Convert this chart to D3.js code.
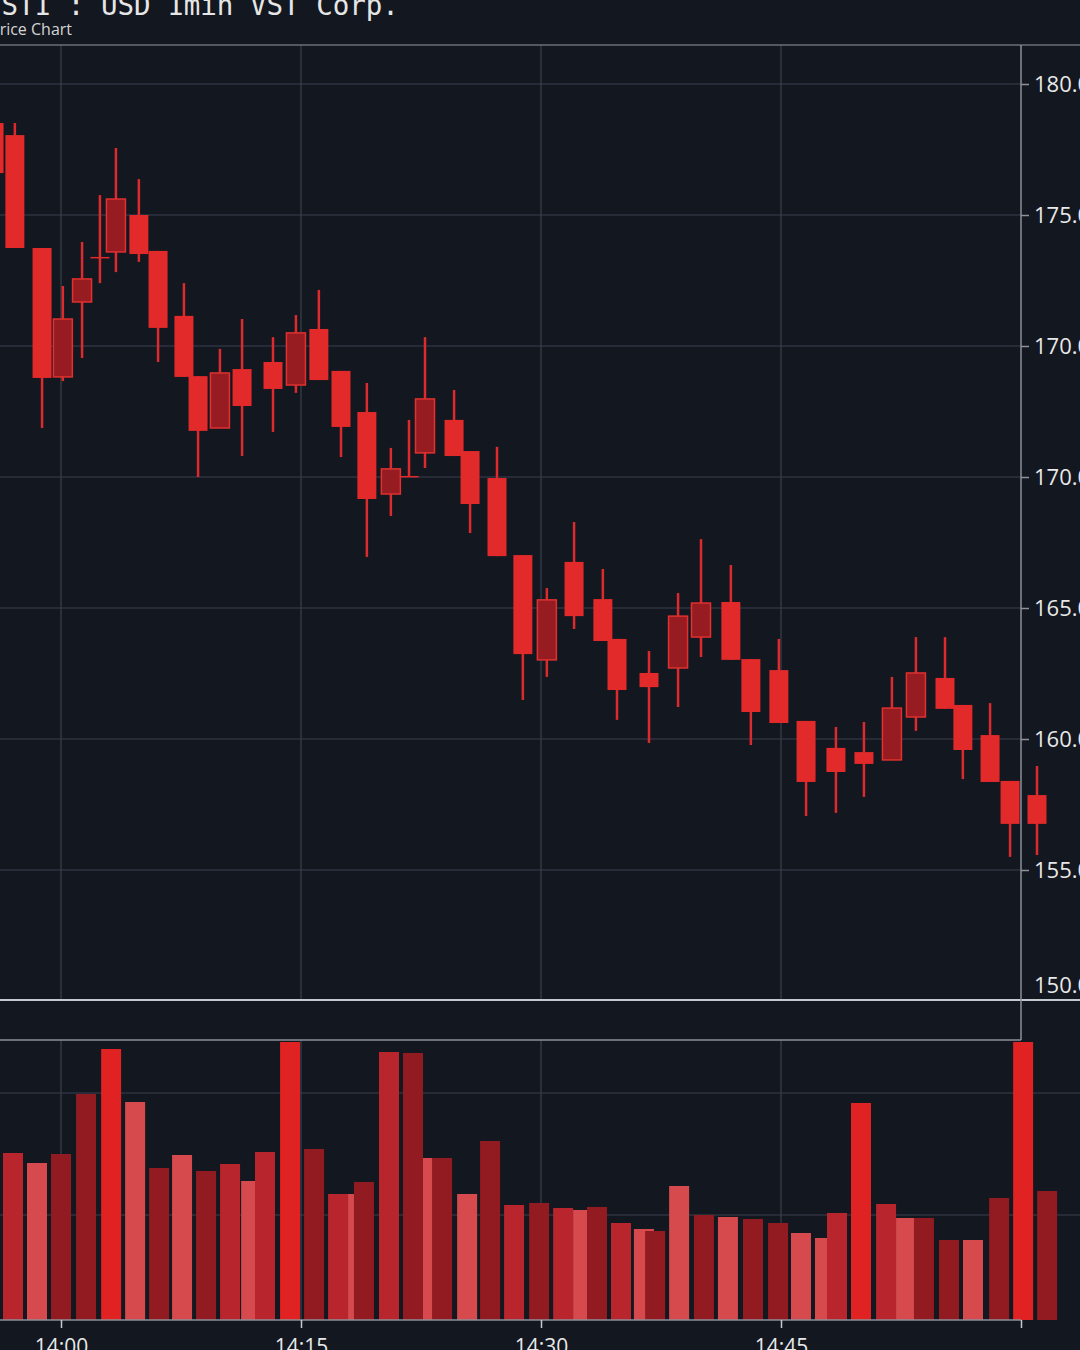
<!DOCTYPE html>
<html>
<head>
<meta charset="utf-8">
<script src="https://d3js.org/d3.v7.min.js"></script>
<style>
body { margin: 0; background: #131720; overflow: hidden; }
</style>
</head>
<body>
<svg width="1080" height="1350"></svg>
<script>
// candles (1min)
var candleTimes = ["13:55:49","13:57:07","13:58:49","14:00:07","14:01:19","14:02:26","14:03:26","14:04:52","14:06:04","14:07:41",
  "14:08:34","14:09:56","14:11:19","14:13:15","14:14:41","14:16:07","14:17:30","14:19:07","14:20:37","14:21:45",
  "14:22:45","14:24:34","14:25:34","14:27:15","14:28:52","14:30:22","14:32:04","14:33:52","14:34:45","14:36:45",
  "14:38:34","14:40:00","14:41:52","14:43:07","14:44:52","14:46:34","14:48:26","14:50:11","14:51:56","14:53:26",
  "14:55:15","14:56:22","14:58:04","14:59:19","15:01:00"];
var opens  = [178.51,178.05,173.74,168.82,171.68,173.40,173.59,175.00,173.63,171.15,
  168.85,166.87,169.12,169.39,168.51,170.65,169.05,167.48,164.35,165.04,
  165.92,167.18,165.99,164.96,162.02,158.02,161.76,160.34,158.82,157.52,
  157.71,158.89,160.23,158.05,157.63,155.69,154.66,154.50,154.20,155.84,
  157.33,156.30,155.15,153.40,152.86];
var highs  = [178.70,178.51,173.74,172.29,173.97,175.76,177.56,176.37,173.63,172.40,
  168.85,169.89,171.03,170.34,171.18,172.14,169.05,168.59,166.11,167.18,
  170.34,168.32,165.99,166.15,162.02,160.76,163.28,161.49,158.82,158.36,
  160.57,162.63,161.64,158.05,158.82,155.69,155.46,155.65,157.37,158.89,
  158.89,156.30,156.37,153.40,153.97];
var lows   = [176.41,173.74,166.87,168.66,169.54,172.40,172.82,173.21,169.39,168.82,
  165.00,166.87,165.80,166.72,168.21,168.70,165.76,161.95,163.51,165.04,
  165.34,165.80,162.86,161.98,156.49,157.37,159.20,158.74,155.73,154.85,
  156.22,158.13,158.02,154.77,155.61,152.06,152.18,152.79,154.20,155.31,
  156.15,153.47,153.36,150.50,150.57];
var closes = [176.60,173.74,168.78,171.03,172.56,173.38,175.61,173.51,170.69,168.82,
  166.76,168.97,167.71,168.36,170.50,168.70,166.91,164.16,165.31,165.04,
  167.98,165.80,163.97,161.98,158.24,160.31,159.69,158.74,156.87,156.98,
  159.69,160.19,158.02,156.03,155.61,153.36,153.74,154.05,156.18,157.52,
  156.15,154.58,153.36,151.76,151.76];

// volume bars
var volTimes = ["13:57:00","13:58:30","14:00:00","14:01:34","14:03:08","14:04:38","14:06:08","14:07:34","14:09:04","14:10:34",
  "14:11:53","14:12:45","14:14:19","14:15:49","14:17:19","14:18:34","14:18:56","14:20:30","14:22:00","14:23:15",
  "14:23:49","14:25:23","14:26:49","14:28:19","14:29:53","14:31:23","14:32:38","14:33:30","14:35:00","14:36:26",
  "14:37:08","14:38:38","14:40:11","14:41:41","14:43:15","14:44:49","14:46:15","14:47:45","14:48:30","14:50:00",
  "14:51:34","14:52:49","14:53:56","14:55:30","14:57:00","14:58:38","15:00:08","15:01:38"];
var volumes = [167,157,166,226,271,218,152,165,149,156,139,168,278,171,126,126,138,268,267,162,
  162,126,179,115,117,112,110,113,97,91,89,134,105,103,101,97,87,82,107,217,
  116,102,102,80,80,122,278,129];
var volTones = [1,2,0,0,3,2,0,2,0,1,2,1,3,0,1,2,0,1,0,2,0,2,0,1,0,1,2,0,1,2,0,2,0,2,0,0,2,2,1,3,1,2,0,0,2,0,3,0];

// axes
var priceTicks = [180,175,170,165,160,155,150,145.6];
var priceTickLabels = ["180.00","175.00","170.00","170.00","165.00","160.00","155.00","150.00"];
var timeTicks = ["14:00","14:15","14:30","14:45","15:00"];
var timeTickLabels = ["14:00","14:15","14:30","14:45",""];
var volGrid = [105, 227];

var svg = d3.select("svg"),
    W = +svg.attr("width"),
    H = +svg.attr("height");

var parseSec = d3.timeParse("%H:%M:%S"),
    parseMin = d3.timeParse("%H:%M");

var axisX = 1021,
    priceTop = 45, priceBottom = 1000,
    volTop = 1040, volBottom = 1320;

var x = d3.scaleTime()
    .domain([parseMin("14:00"), parseMin("15:00")])
    .range([61, 1021]);

var y = d3.scaleLinear().domain([180, 145]).range([84, 84 + 35 * 26.2]);
var yv = d3.scaleLinear().domain([0, 280]).range([volBottom, volTop]);

var toneColor = d3.scaleOrdinal().domain([0,1,2,3])
    .range(["#921b21", "#b9252c", "#d64a4d", "#e12222"]);

var candles = candleTimes.map(function(t, i) {
  return {t: parseSec(t), o: opens[i], h: highs[i], l: lows[i], c: closes[i]};
});
var vols = volTimes.map(function(t, i) {
  return {t: parseSec(t), v: volumes[i], tone: volTones[i]};
});

svg.append("rect").attr("width", W).attr("height", H).attr("fill", "#131720");

// title
svg.append("text")
    .attr("x", -15).attr("y", 15)
    .attr("font-family", "DejaVu Sans Mono").attr("font-size", 27.5)
    .attr("fill", "#e6e6e6")
    .text("VSTI : USD 1min VST Corp.");
svg.append("text")
    .attr("x", -10).attr("y", 35)
    .attr("font-family", "Open Sans").attr("font-size", 16)
    .attr("fill", "#d4d4d4")
    .text("Price Chart");

var grid = svg.append("g").attr("stroke", "#3a414e").attr("stroke-width", 1.2);

// price grid
grid.selectAll(".hg").data(priceTicks.slice(0, 7)).enter().append("line")
    .attr("x1", 0).attr("x2", axisX)
    .attr("y1", function(d) { return y(d); }).attr("y2", function(d) { return y(d); });
grid.selectAll(".vg").data(timeTicks.slice(0, 4)).enter().append("line")
    .attr("x1", function(d) { return x(parseMin(d)); }).attr("x2", function(d) { return x(parseMin(d)); })
    .attr("y1", priceTop).attr("y2", priceBottom);

// volume grid
grid.selectAll(".hvg").data(volGrid).enter().append("line")
    .attr("x1", 0).attr("x2", W)
    .attr("y1", function(d) { return yv(d); }).attr("y2", function(d) { return yv(d); });
grid.selectAll(".vvg").data(timeTicks.slice(0, 4)).enter().append("line")
    .attr("x1", function(d) { return x(parseMin(d)); }).attr("x2", function(d) { return x(parseMin(d)); })
    .attr("y1", volTop).attr("y2", volBottom);

// candles
var cw = 19;
var cg = svg.selectAll(".candle").data(candles).enter().append("g").attr("class", "candle");
cg.append("line")
    .attr("x1", function(d) { return x(d.t); }).attr("x2", function(d) { return x(d.t); })
    .attr("y1", function(d) { return y(d.h); }).attr("y2", function(d) { return y(d.l); })
    .attr("stroke", "#dd2a2c").attr("stroke-width", 2.5);
cg.append("rect")
    .attr("x", function(d) { return x(d.t) - cw / 2; })
    .attr("width", cw)
    .attr("y", function(d) { return y(Math.max(d.o, d.c)); })
    .attr("height", function(d) { return Math.max(1.5, Math.abs(y(d.o) - y(d.c))); })
    .attr("fill", function(d) { return d.c > d.o ? "#961c22" : "#e22a2b"; })
    .attr("stroke", function(d) { return d.c > d.o ? "#e0302f" : "none"; })
    .attr("stroke-width", 1.5);

// volume bars
var bw = 20;
svg.selectAll(".vol").data(vols).enter().append("rect")
    .attr("x", function(d) { return x(d.t) - bw / 2; })
    .attr("width", bw)
    .attr("y", function(d) { return yv(d.v); })
    .attr("height", function(d) { return yv(0) - yv(d.v); })
    .attr("fill", function(d) { return toneColor(d.tone); });

// frame lines
svg.append("line").attr("x1", 0).attr("x2", W).attr("y1", priceTop).attr("y2", priceTop)
    .attr("stroke", "#6a707b").attr("stroke-width", 1.5);
svg.append("line").attr("x1", 0).attr("x2", W).attr("y1", priceBottom).attr("y2", priceBottom)
    .attr("stroke", "#c4c8cf").attr("stroke-width", 2);
svg.append("line").attr("x1", 0).attr("x2", axisX).attr("y1", volTop).attr("y2", volTop)
    .attr("stroke", "#8c919a").attr("stroke-width", 1.5);
svg.append("line").attr("x1", axisX).attr("x2", axisX).attr("y1", priceTop).attr("y2", volTop)
    .attr("stroke", "#8c919a").attr("stroke-width", 1.5);

// price axis (right)
var yAxis = d3.axisRight(y)
    .tickValues(priceTicks)
    .tickSize(8).tickPadding(5)
    .tickFormat(function(d, i) { return priceTickLabels[i]; });
var ya = svg.append("g").attr("transform", "translate(" + axisX + ",0)").call(yAxis);
ya.select(".domain").remove();
ya.selectAll(".tick line").attr("stroke", "#8c919a").attr("stroke-width", 1.5)
    .filter(function(d, i) { return i === priceTicks.length - 1; }).remove();
ya.selectAll(".tick text").attr("fill", "#e8e8e8")
    .attr("font-family", "Open Sans").attr("font-size", 22);

// time axis (bottom)
var xAxis = d3.axisBottom(x)
    .tickValues(timeTicks.map(function(d) { return parseMin(d); }))
    .tickSize(8).tickPadding(11)
    .tickFormat(function(d, i) { return timeTickLabels[i]; });
var xa = svg.append("g").attr("transform", "translate(0," + volBottom + ")").call(xAxis);
xa.select(".domain").attr("d", "M0,0H" + axisX).attr("stroke", "#8c919a").attr("stroke-width", 1.5);
xa.selectAll(".tick line").attr("stroke", "#c4c8cf").attr("stroke-width", 1.5);
xa.selectAll(".tick text").attr("fill", "#e8e8e8")
    .attr("font-family", "Open Sans").attr("font-size", 21);
</script>
</body>
</html>
